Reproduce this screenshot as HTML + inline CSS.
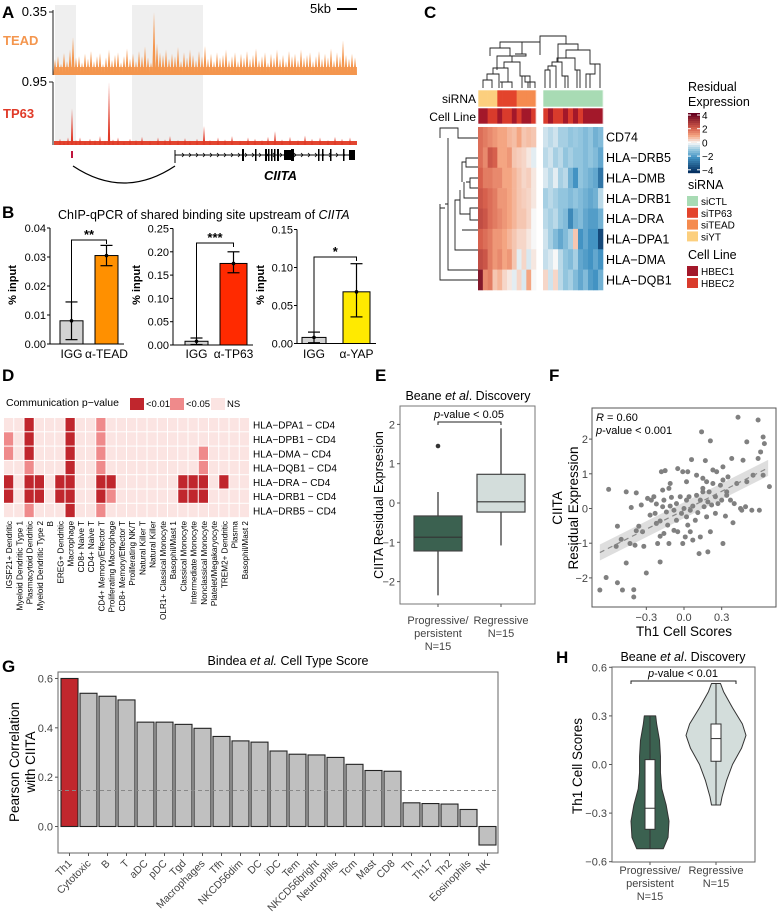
<!DOCTYPE html>
<html><head><meta charset="utf-8">
<style>
html,body{margin:0;padding:0;background:#fff;}
svg{display:block;font-family:"Liberation Sans",Arial,sans-serif;}
</style></head>
<body>
<svg id="fig" width="778" height="913" viewBox="0 0 778 913" xmlns="http://www.w3.org/2000/svg">
<g id="pA"></g>
<g id="pB"></g>
<g id="pC"></g>
<g id="pD"></g>
<g id="pE"></g>
<g id="pF"></g>
<g id="pG"></g>
<g id="pH"></g>
</svg>
<script>
// ---------- DATA ----------
// A tracks: signal as fraction of axis max, bins every 3px starting at x=55
const teadPeakVal=[0.25,0.30,0.18,0.35,0.22,0.40,0.60,0.28,0.30,0.20,0.34,0.26,0.38,0.22,0.30,0.35,0.18,0.28,0.40,0.24,
0.32,0.36,0.20,0.30,0.42,0.26,0.34,0.22,0.38,0.30,0.45,0.28,0.20,1.00,0.50,0.36,0.32,0.40,0.26,0.34,
0.30,0.44,0.22,0.36,0.28,0.40,0.32,0.24,0.38,0.30,0.46,0.26,0.34,0.22,0.36,0.28,0.32,0.40,0.24,0.30,
0.36,0.22,0.34,0.28,0.38,0.26,0.32,0.42,0.24,0.30,0.36,0.20,0.34,0.28,0.40,0.26,0.32,0.22,0.38,0.30,
0.34,0.24,0.40,0.28,0.32,0.36,0.22,0.30,0.38,0.26,0.34,0.28,0.42,0.24,0.36,0.30,0.55,0.32,0.26,0.34,0.28];
const tp63PeakPos=[60,64,68,72,76,80,85,90,95,100,105,109,113,118,124,130,136,142,150,158,165,170,178,185,190,197,204,210,218,225,232,240,248,255,262,268,275,282,290,298,305,312,320,328,335,342,350];
const tp63PeakVal=[0.10,0.07,0.12,0.58,0.08,0.12,0.06,0.10,0.08,0.14,0.07,1.0,0.09,0.12,0.06,0.10,0.08,0.13,0.07,0.12,0.09,0.14,0.08,0.11,0.07,0.10,0.30,0.08,0.12,0.09,0.14,0.07,0.12,0.10,0.08,0.13,0.22,0.09,0.13,0.08,0.15,0.10,0.12,0.08,0.13,0.10,0.12];
// B ChIP-qPCR
const bGroups=["IGG","α-TEAD","IGG","α-TP63","IGG","α-YAP"];
const bMeans=[0.008,0.0305,0.008,0.175,0.008,0.068];
const bErrLo=[0.0015,0.027,0.001,0.155,0.001,0.035];
const bErrHi=[0.0145,0.034,0.015,0.200,0.015,0.105];
const bTicks1=[0,0.01,0.02,0.03,0.04];
const bTicks2=[0,0.05,0.10,0.15,0.20,0.25];
const bTicks3=[0,0.05,0.10,0.15];
const bStars=["**","***","*"];
// C heatmap
const cGenes=["CD74","HLA\u2212DRB5","HLA\u2212DMB","HLA\u2212DRB1","HLA\u2212DRA","HLA\u2212DPA1","HLA\u2212DMA","HLA\u2212DQB1"];
const cLeft=[
[1.8,1.6,1.4,1.2,1.0,1.0,0.8,0.7,1.0,0.6,0.7,0.6],
[1.8,1.4,2.2,2.0,1.0,1.0,1.2,0.6,0.5,0.4,0.2,-0.2],
[2.0,1.6,1.6,1.4,1.4,1.0,1.0,0.8,0.6,0.4,0.5,0.2],
[2.2,2.0,1.8,1.6,1.2,1.2,1.0,0.8,0.6,0.5,0.4,0.2],
[2.4,2.2,1.8,1.6,1.4,1.2,1.0,0.8,0.6,0.6,0.4,0.0],
[2.0,1.8,1.6,1.2,1.2,1.0,0.8,0.6,0.4,0.4,0.2,0.0],
[2.4,2.2,1.6,1.2,1.4,1.0,1.2,0.6,-0.2,0.4,-0.3,0.2],
[3.5,1.4,1.6,0.6,0.8,0.4,0.2,-0.2,0.4,-0.3,1.0,0.0]];
const cRight=[
[-0.4,-0.6,-0.4,-0.8,-0.8,-1.0,-0.9,-1.0,-1.2,-1.0,-1.4,-1.2],
[-0.6,-0.4,-0.8,-0.6,-1.0,-0.8,-1.0,-1.0,-1.2,-1.0,-1.2,-1.6],
[-0.3,-0.6,-0.2,-0.8,-0.6,-1.4,-2.0,-1.0,-1.2,-1.4,-1.6,-2.6],
[-0.8,-0.6,-0.8,-1.0,-1.0,-1.2,-1.0,-1.2,-1.4,-1.6,-1.4,-0.6],
[-0.6,-0.8,-0.6,-1.0,-1.2,-2.2,-1.4,-1.2,-1.6,-1.8,-1.8,-1.4],
[-0.4,-0.8,-1.2,-1.6,-1.2,-0.8,0.6,-2.0,-1.6,-2.0,-2.0,-3.5],
[-0.5,-0.3,0.0,-0.6,-1.0,-1.2,-0.8,-1.6,-1.8,-2.0,-1.6,-2.0],
[0.4,-0.4,0.4,-0.6,-1.0,-0.8,-1.2,-1.6,-1.2,-1.8,-2.0,-1.4]];
const cSirnaLeft=["siYT","siYT","siYT","siYT","siTP63","siTP63","siTP63","siTP63","siTEAD","siTEAD","siTEAD","siTEAD"];
const cCellLeft=[1,1,2,2,1,2,2,1,2,1,1,2];
const cCellRight=[2,1,2,2,1,2,1,2,1,1,1,1];
// D communication heatmap
const dCols=["IGSF21+ Dendritic","Myeloid Dendritic Type 1","Plasmacytoid Dendritic","Myeloid Dendritic Type 2","B","EREG+ Dendritic","Macrophage","CD8+ Naive T","CD4+ Naive T","CD4+ Memory/Effector T","Proliferating Macrophage","CD8+ Memory/Effector T","Proliferating NK/T","Natural Killer T","Natural Killer","OLR1+ Classical Monocyte","Basophil/Mast 1","Classical Monocyte","Intermediate Monocyte","Nonclassical Monocyte","Platelet/Megakaryocyte","TREM2+ Dendritic","Plasma","Basophil/Mast 2"];
const dRows=["HLA\u2212DPA1 \u2212 CD4","HLA\u2212DPB1 \u2212 CD4","HLA\u2212DMA \u2212 CD4","HLA\u2212DQB1 \u2212 CD4","HLA\u2212DRA \u2212 CD4","HLA\u2212DRB1 \u2212 CD4","HLA\u2212DRB5 \u2212 CD4"];
const dVals=[
[0,0,2,0,0,0,2,0,0,1,0,0,0,0,0,0,0,0,0,0,0,0,0,0],
[1,0,2,0,0,0,2,0,0,1,0,0,0,0,0,0,0,0,0,0,0,0,0,0],
[1,0,2,0,0,0,2,0,0,1,0,0,0,0,0,0,0,0,0,1,0,0,0,0],
[0,0,1,0,0,0,2,0,0,1,0,0,0,0,0,0,0,0,0,1,0,0,0,0],
[2,0,2,2,0,2,2,0,0,2,2,0,0,0,0,0,0,2,2,2,0,2,0,0],
[2,0,2,2,0,2,2,0,0,2,1,0,0,0,0,0,0,2,2,2,0,0,0,0],
[0,0,1,0,0,0,2,0,0,1,0,0,0,0,0,0,0,0,0,0,0,0,0,0]];
// E boxplot
const eGroups=["Progressive/|persistent|N=15","Regressive|N=15"];
const eMin=[-2.35,-1.08],eQ1=[-1.22,-0.23],eMed=[-0.87,0.03],eQ3=[-0.33,0.73],eMax=[0.28,1.9];
const eOutliers=[[1.45],[]];
const eTicks=[-2,-1,0,1,2];
// F scatter
const fX=[-0.67,-0.62,-0.53,-0.49,-0.40,-0.40,-0.46,-0.60,-0.54,-0.53,-0.46,-0.38,-0.42,-0.50,-0.43,-0.39,-0.38,-0.36,-0.33,-0.32,-0.30,-0.29,-0.34,-0.27,-0.26,-0.24,-0.23,-0.22,-0.21,-0.19,-0.19,-0.17,-0.17,-0.16,-0.18,-0.15,-0.14,-0.13,-0.12,-0.12,-0.11,-0.10,-0.08,-0.08,-0.06,-0.06,-0.05,-0.05,-0.03,-0.02,-0.01,-0.01,0,0.01,0.02,0.02,0.03,0.03,0.04,0.05,0.05,0.06,0.07,0.07,0.09,0.10,0.10,0.11,0.12,0.13,0.13,0.14,0.15,0.15,0.16,0.17,0.18,0.19,0.19,0.20,0.21,0.21,0.22,0.23,0.23,0.25,0.25,0.26,0.27,0.29,0.30,0.31,0.31,0.33,0.34,0.34,0.35,0.37,0.38,0.39,0.40,0.42,0.43,0.45,0.46,0.47,0.49,0.50,0.50,0.54,0.55,0.59,0.59,0.61,0.63,0.64,0.63,0.60,0.68,0.02,-0.19,-0.22,-0.11,0.15,0.18,-0.16,0.31];
const fY=[-2.35,-1.99,-2.14,-2.35,-2.34,-2.55,-1.57,0.55,-1.09,-0.51,0.48,0.45,0.03,-0.89,-1.01,-1.06,-0.64,-0.51,-0.67,-1.09,-1.86,0.29,0.10,-0.19,0.24,0.34,-0.14,0.13,-1.01,-1.54,-0.36,0.05,0.53,0.24,1.06,1.09,-0.10,-0.48,-1.01,0.58,0.07,0.32,-0.63,-0.05,0.14,-0.34,1.15,-0.67,0.34,-0.14,1.06,-1.01,0,-0.82,0.24,-0.24,-0.48,1.06,0.34,-0.05,-0.67,1.41,0.07,-0.91,-0.34,0.38,0.96,-0.12,-1.30,0.24,-0.82,2.21,0.58,0.87,0.05,1.38,-0.24,0.19,-1.25,0.48,-0.67,1.95,0.10,1.11,0.72,0.34,-0.14,1.06,0.14,0.67,0.24,-1.01,1.20,-0.22,0.48,0.38,0.91,0.24,1.44,-0.41,0.14,0.72,2.63,0.00,-0.05,1.39,0.05,0.77,1.92,-0.05,0.96,1.44,2.55,1.63,2.06,1.87,0.96,-0.05,0.63,0.77,-0.80,-0.43,0.72,0.48,0.77,-0.72,0.82];
const fSlope=1.82,fIntercept=-0.05;
const fXTicks=[-0.3,0.0,0.3];
const fYTicks=[-2,-1,0,1,2];
// G bars
const gCats=["Th1","Cytotoxic","B","T","aDC","pDC","Tgd","Macrophages","Tfh","NKCD56dim","DC","iDC","Tem","NKCD56bright","Neutrophils","Tcm","Mast","CD8","Th","Th17","Th2","Eosinophils","NK"];
const gVals=[0.60,0.54,0.528,0.513,0.423,0.423,0.414,0.398,0.365,0.347,0.342,0.306,0.293,0.290,0.280,0.252,0.227,0.224,0.096,0.093,0.091,0.069,-0.075];
const gThreshold=0.146;
const gTicks=[0.0,0.2,0.4,0.6];
// H violins
const hGroups=["Progressive/|persistent|N=15","Regressive|N=15"];
const hDensY=[[-0.52,-0.45,-0.35,-0.25,-0.15,-0.05,0.05,0.15,0.25,0.30],[-0.25,-0.2,-0.1,0,0.1,0.18,0.25,0.35,0.45,0.50]];
const hDensW=[[0.7,0.95,1.0,0.85,0.62,0.55,0.55,0.5,0.35,0.3],[0.15,0.2,0.35,0.55,0.85,1.0,0.88,0.55,0.25,0.15]];
const hQ1=[-0.40,0.02],hMed=[-0.27,0.16],hQ3=[0.03,0.25];
const hTicks=[-0.6,-0.3,0.0,0.3,0.6];

// ---------- HELPERS ----------
const NS="http://www.w3.org/2000/svg";
function el(parent,tag,attrs,text){const e=document.createElementNS(NS,tag);for(const k in attrs)e.setAttribute(k,attrs[k]);if(text!==undefined)e.textContent=text;parent.appendChild(e);return e;}
function fmt(v,d){return (v<0?"\u2212":"")+Math.abs(v).toFixed(d);}

// ---------- PANEL A ----------
(function(){
const g=document.getElementById('pA');
let t=el(g,'text',{x:2,y:18,'font-size':17,'font-weight':'bold'},'A');

el(g,'rect',{x:55,y:5,width:21,height:140,fill:'#efefef'});
el(g,'rect',{x:132,y:5,width:71,height:140,fill:'#efefef'});
const tY0=75,tTop=12;
el(g,'rect',{x:54,y:67,width:303,height:8,fill:'#f6a060'});
teadPeakVal.forEach((v,i)=>{const p=55+i*3;const y=tY0-v*(tY0-tTop);
 const s=el(g,'path',{d:`M${p-1.8},${tY0} L${p},${y} L${p+1.8},${tY0} Z`,fill:'#f4964e'});
 });
const pY0=145,pTop=82;
el(g,'rect',{x:54,y:141,width:303,height:4,fill:'#e2452f'});
tp63PeakPos.forEach((p,i)=>{const y=pY0-tp63PeakVal[i]*(pY0-pTop);
 const s=el(g,'path',{d:`M${p-1.2},${pY0} L${p},${y} L${p+1.2},${pY0} Z`,fill:'#e03a28'});
 });
el(g,'line',{x1:53,y1:10,x2:53,y2:75,stroke:'#222','stroke-width':1});
el(g,'line',{x1:49,y1:12,x2:53,y2:12,stroke:'#222'});
el(g,'line',{x1:53,y1:82,x2:53,y2:145,stroke:'#222','stroke-width':1});
el(g,'line',{x1:49,y1:82,x2:53,y2:82,stroke:'#222'});
el(g,'text',{x:47,y:16,'font-size':13,'text-anchor':'end'},'0.35');
el(g,'text',{x:47,y:86,'font-size':13,'text-anchor':'end'},'0.95');
t=el(g,'text',{x:3,y:45,'font-size':13,'font-weight':'bold',fill:'#f4964e'},'TEAD');
t=el(g,'text',{x:3,y:118,'font-size':13,'font-weight':'bold',fill:'#e03a28'},'TP63');
el(g,'text',{x:310,y:13,'font-size':13},'5kb');
el(g,'line',{x1:337,y1:9,x2:357,y2:9,stroke:'#000','stroke-width':2});
el(g,'rect',{x:71,y:151,width:2,height:7,fill:'#c0143c'});
el(g,'line',{x1:175,y1:150,x2:175,y2:163,stroke:'#000','stroke-width':1});
el(g,'line',{x1:175,y1:155,x2:352,y2:155,stroke:'#000','stroke-width':1});
for(let x=182;x<345;x+=7){el(g,'path',{d:`M${x},153 L${x+2},155 L${x},157`,stroke:'#000',fill:'none','stroke-width':0.8});}
[[242,2],[255,1.5],[265,2],[268,1.5],[271,1.5],[274,1.5],[277,2],[284,9],[291,3],[318,1.5],[322,1.5],[330,1.5],[343,1.5],[349,6]].forEach(e=>{el(g,'rect',{x:e[0],y:e[1]>5?150:149,width:e[1],height:e[1]>5?10:12,fill:'#000'});});
el(g,'path',{d:'M73,166 Q124,200 175,166',stroke:'#000',fill:'none','stroke-width':1.2});
t=el(g,'text',{x:264,y:180,'font-size':13,'font-style':'italic','font-weight':'bold'},'CIITA');
})();

// ---------- PANEL B ----------
(function(){
const g=document.getElementById('pB');
let t=el(g,'text',{x:2,y:218,'font-size':17,'font-weight':'bold'},'B');

const ti=el(g,'text',{x:58,y:219,'font-size':12.5});ti.innerHTML='ChIP-qPCR of shared binding site upstream of <tspan font-style="italic">CIITA</tspan>';

const subs=[{ax:50,y0:344,k:2900,ticks:bTicks1,bars:[[60,83],[95,118]],col:'#ff9000',br:240},
            {ax:173,y0:345,k:466,ticks:bTicks2,bars:[[185,208],[220,247]],col:'#ff2a00',br:243},
            {ax:297,y0:343.5,k:760,ticks:bTicks3,bars:[[302,326],[343,370]],col:'#ffea00',br:257}];
const ylx=[16,140,264];
subs.forEach((s,si)=>{
 const top=s.y0-s.ticks[s.ticks.length-1]*s.k;
 el(g,'line',{x1:s.ax,y1:top,x2:s.ax,y2:s.y0,stroke:'#000'});
 el(g,'line',{x1:s.ax,y1:s.y0,x2:s.bars[1][1]+6,y2:s.y0,stroke:'#000'});
 s.ticks.forEach(v=>{const y=s.y0-v*s.k;el(g,'line',{x1:s.ax-3,y1:y,x2:s.ax,y2:y,stroke:'#000'});
   el(g,'text',{x:s.ax-4,y:y+4,'font-size':11,'text-anchor':'end'},v.toFixed(2));});
 const yl=el(g,'text',{x:ylx[si],y:285,'font-size':11,'font-weight':'bold','text-anchor':'middle',transform:`rotate(-90 ${ylx[si]} 285)`},'% input');
 
 s.bars.forEach((b,bi)=>{const i=si*2+bi;const y=s.y0-bMeans[i]*s.k;
  const r=el(g,'rect',{x:b[0],y:y,width:b[1]-b[0],height:s.y0-y,fill:bi?s.col:'#d3d3d3',stroke:'#000','stroke-width':1});
  
  const cx=(b[0]+b[1])/2,yl=s.y0-bErrLo[i]*s.k,yh=s.y0-bErrHi[i]*s.k;
  el(g,'line',{x1:cx,y1:yl,x2:cx,y2:yh,stroke:'#000','stroke-width':1.2});
  el(g,'line',{x1:cx-6,y1:yl,x2:cx+6,y2:yl,stroke:'#000','stroke-width':1.2});
  el(g,'line',{x1:cx-6,y1:yh,x2:cx+6,y2:yh,stroke:'#000','stroke-width':1.2});
  el(g,'circle',{cx:cx,cy:y,r:1.8,fill:'#000'});
  el(g,'text',{x:cx,y:358,'font-size':12,'text-anchor':'middle'},bGroups[i]);
 });
 const c0=(s.bars[0][0]+s.bars[0][1])/2,c1=(s.bars[1][0]+s.bars[1][1])/2;
 el(g,'path',{d:`M${c0},${s.y0-5} V${s.br} H${c1} V${s.br+4}`,stroke:'#000',fill:'none'});
 el(g,'text',{x:(c0+c1)/2,y:s.br-1,'font-size':13,'font-weight':'bold','text-anchor':'middle'},bStars[si]);
});
})();

// ---------- PANEL C ----------
function rdbu(v){
 const stops=[[-4,[5,48,97]],[-2,[67,147,195]],[-1,[146,197,222]],[0,[247,247,247]],[1,[244,165,130]],[2,[214,96,77]],[4,[103,0,31]]];
 v=Math.max(-4,Math.min(4,v));
 for(let i=0;i<stops.length-1;i++){const a=stops[i],b=stops[i+1];if(v<=b[0]){const f=(v-a[0])/(b[0]-a[0]);const c=a[1].map((x,j)=>Math.round(x+(b[1][j]-x)*f));return `rgb(${c})`;}}
 return 'rgb(103,0,31)';}
(function(){
const g=document.getElementById('pC');
let t=el(g,'text',{x:424,y:18,'font-size':17,'font-weight':'bold'},'C');

const sirCol={siCTL:'#a8dbb4',siTP63:'#e3442c',siTEAD:'#f58b4f',siYT:'#fccf7e'};
const cellCol={1:'#a3182a',2:'#d93b2c'};
const Lx=478,Lw=58,Rx=543,Rw=60,top=127,bot=290,n=12;
const rh=(bot-top)/cGenes.length;
function block(x0,w,vals,sir,cell){
 const cw=w/n;
 for(let j=0;j<n;j++){
  const s=el(g,'rect',{x:x0+j*cw,y:90,width:cw+0.3,height:17,fill:sirCol[sir[j]]});
  
  el(g,'rect',{x:x0+j*cw,y:108,width:cw+0.3,height:16,fill:cellCol[cell[j]]});
  vals.forEach((row,i)=>{const c=el(g,'rect',{x:x0+j*cw,y:top+i*rh,width:cw+0.3,height:rh+0.3,fill:rdbu(row[j])});
   });
 }
 el(g,'rect',{x:x0,y:90,width:w,height:17,fill:'none',stroke:'#fff','stroke-width':0.6});
 el(g,'rect',{x:x0,y:108,width:w,height:16,fill:'none',stroke:'#fff','stroke-width':0.6});
}
block(Lx,Lw,cLeft,cSirnaLeft,cCellLeft);
block(Rx,Rw,cRight,Array(12).fill('siCTL'),cCellRight);
el(g,'text',{x:476,y:103,'font-size':12,'text-anchor':'end'},'siRNA');
el(g,'text',{x:476,y:121,'font-size':12,'text-anchor':'end'},'Cell Line');
cGenes.forEach((gn,i)=>{const tx=el(g,'text',{x:606,y:top+i*rh+rh/2+4.5,'font-size':12.5},gn);
 });
el(g,'path',{d:'M483,88V80H492V88 M487,80V74H499V88 M493,74V68H508V82H512V88 M500,82H508 M502,88V82 M504,68V62H520V76H530V88 M522,88V76 M525,76V82H535V88 M528,82V88 M512,62V56H526V54H515 M497,70V56H512 M490,56V48H510V56 M500,48V42H540 V55 M545,88V70H550V88 M548,70V66H556V88 M552,66V62H562V76H568V88 M565,76V88 M557,62V58H575V70H580V88 M577,70V88 M566,58V50H590V64H600V88 M595,64V74H586V88 M590,74V88 M578,50V44H558V62 M522,54V42 M540,42V36H566V44',stroke:'#222',fill:'none','stroke-width':0.9});
el(g,'path',{d:'M478,138H458V128H440V138 M478,158H466V167H478 M466,162H462V182 M478,178H470V188H478 M470,182H466 M464,182V198H478 M478,208H470V220H478 M470,214H460V190 M460,200H455V230 M478,230H462 M455,230V250H478 M478,270H448V138 M448,204H445 M478,280H440V204 M440,208H445',stroke:'#222',fill:'none','stroke-width':0.9});
el(g,'text',{x:688,y:91,'font-size':12.5},'Residual');
el(g,'text',{x:688,y:106,'font-size':12.5},'Expression');
for(let k=0;k<30;k++){const v=4-8*k/29;el(g,'rect',{x:688,y:113+k*2,width:12,height:2.2,fill:rdbu(v)});}
[4,2,0,-2,-4].forEach((v,i)=>{const y=115+i*13.7;el(g,'line',{x1:688,y1:y,x2:691,y2:y,stroke:'#fff'});el(g,'line',{x1:697,y1:y,x2:700,y2:y,stroke:'#fff'});
 el(g,'text',{x:702,y:y+4,'font-size':10},fmt(v,0));});
el(g,'text',{x:688,y:189,'font-size':12.5},'siRNA');
[['siCTL',sirCol.siCTL],['siTP63',sirCol.siTP63],['siTEAD',sirCol.siTEAD],['siYT',sirCol.siYT]].forEach((e,i)=>{const y=196+i*11.8;
 const r=el(g,'rect',{x:687,y:y,width:11,height:10,fill:e[1]});
 el(g,'text',{x:701,y:y+9,'font-size':10},e[0]);});
el(g,'text',{x:688,y:259,'font-size':12.5},'Cell Line');
[['HBEC1',cellCol[1]],['HBEC2',cellCol[2]]].forEach((e,i)=>{const y=266+i*12;
 const r=el(g,'rect',{x:687,y:y,width:11,height:10,fill:e[1]});
 el(g,'text',{x:701,y:y+9,'font-size':10},e[0]);});
})();

// ---------- PANEL D ----------
(function(){
const g=document.getElementById('pD');
let t=el(g,'text',{x:2,y:381,'font-size':17,'font-weight':'bold'},'D');

const cols=['#fbe4e2','#ef8a8b','#c0262d'];
el(g,'text',{x:6,y:406,'font-size':10.5},'Communication p\u2212value');
[[130,'<0.01',2],[170,'<0.05',1],[211,'NS',0]].forEach(e=>{const r=el(g,'rect',{x:e[0],y:398,width:14,height:12,fill:cols[e[2]]});
 
 el(g,'text',{x:e[0]+16,y:407,'font-size':9.5},e[1]);});
const x0=4,y0=418,cw=10.25,rh=14.3;
dVals.forEach((row,i)=>{row.forEach((v,j)=>{const r=el(g,'rect',{x:x0+j*cw,y:y0+i*rh,width:cw-1,height:rh-1,fill:cols[v]});
 });
 el(g,'text',{x:253,y:y0+i*rh+rh/2+3.5,'font-size':10},dRows[i]);});
dCols.forEach((c,j)=>{const x=x0+j*cw+cw/2+3;const tx=el(g,'text',{x:x,y:521,'font-size':8.2,'text-anchor':'end',transform:`rotate(-90 ${x} 521)`},c);
 });
})();

// ---------- PANEL E ----------
(function(){
const g=document.getElementById('pE');
let t=el(g,'text',{x:375,y:381,'font-size':17,'font-weight':'bold'},'E');

const L=400,R=535,T=406,B=604,y0=503,k=39.3;
const Y=v=>y0-v*k;
const tt=el(g,'text',{x:468,y:400,'font-size':12.5,'text-anchor':'middle'});tt.innerHTML='Beane <tspan font-style="italic">et al</tspan>. Discovery';
el(g,'rect',{x:L,y:T,width:R-L,height:B-T,fill:'none',stroke:'#777'});
eTicks.forEach(v=>{el(g,'line',{x1:L-3,y1:Y(v),x2:L,y2:Y(v),stroke:'#555'});el(g,'text',{x:L-5,y:Y(v)+4,'font-size':11,'text-anchor':'end',fill:'#444'},fmt(v,0));});
const yl=el(g,'text',{x:383,y:505,'font-size':12.5,'text-anchor':'middle',transform:'rotate(-90 383 505)'},'CIITA Residual Exprsesion');

const cx=[438,501],fills=['#3b6150','#d3dddb'];
eGroups.forEach((gname,i)=>{const c=cx[i];
 el(g,'line',{x1:c,y1:Y(eMin[i]),x2:c,y2:Y(eMax[i]),stroke:'#555','stroke-width':1.5});
 const b=el(g,'rect',{x:c-24,y:Y(eQ3[i]),width:48,height:Y(eQ1[i])-Y(eQ3[i]),fill:fills[i],stroke:'#444','stroke-width':1.2});
 
 el(g,'line',{x1:c-24,y1:Y(eMed[i]),x2:c+24,y2:Y(eMed[i]),stroke:'#333','stroke-width':1.2});
 eOutliers[i].forEach(o=>el(g,'circle',{cx:c,cy:Y(o),r:2.3,fill:'#333'}));
 el(g,'line',{x1:c,y1:B,x2:c,y2:B+3,stroke:'#555'});
 gname.split('|').forEach((ln,li)=>el(g,'text',{x:c,y:624+li*13,'font-size':11,'text-anchor':'middle',fill:'#444'},ln));
});
el(g,'path',{d:'M438,425V422H501V425',stroke:'#222',fill:'none'});
const pv=el(g,'text',{x:469,y:418,'font-size':11,'text-anchor':'middle'});pv.innerHTML='<tspan font-style="italic">p</tspan>-value &lt; 0.05';
})();

// ---------- PANEL F ----------
(function(){
const g=document.getElementById('pF');
let t=el(g,'text',{x:549,y:381,'font-size':17,'font-weight':'bold'},'F');

const L=592,R=776,T=408,B=607;
const X=v=>684+v*125.6, Y=v=>508.5-v*34.7;
el(g,'rect',{x:L,y:T,width:R-L,height:B-T,fill:'none',stroke:'#555'});
const x1=-0.67,x2=0.67;
el(g,'path',{d:`M${X(x1)},${Y(fSlope*x1+fIntercept)-8} L${X(x2)},${Y(fSlope*x2+fIntercept)-8} L${X(x2)},${Y(fSlope*x2+fIntercept)+8} L${X(x1)},${Y(fSlope*x1+fIntercept)+8}Z`,fill:'#dedede'});
fX.forEach((x,i)=>{const c=el(g,'circle',{cx:X(x),cy:Y(fY[i]),r:2.5,fill:'#808080'});
 });
const rl=el(g,'line',{x1:X(x1),y1:Y(fSlope*x1+fIntercept),x2:X(x2),y2:Y(fSlope*x2+fIntercept),stroke:'#888','stroke-dasharray':'5,4','stroke-width':1.2});

fXTicks.forEach(v=>{el(g,'line',{x1:X(v),y1:B,x2:X(v),y2:B+3,stroke:'#555'});el(g,'text',{x:X(v),y:B+14,'font-size':11,'text-anchor':'middle',fill:'#444'},fmt(v,1));});
fYTicks.forEach(v=>{el(g,'line',{x1:L-3,y1:Y(v),x2:L,y2:Y(v),stroke:'#555'});el(g,'text',{x:L-4,y:Y(v)+4,'font-size':11,'text-anchor':'end',fill:'#444'},fmt(v,0));});
el(g,'text',{x:684,y:636,'font-size':13.5,'text-anchor':'middle'},'Th1 Cell Scores');
el(g,'text',{x:562,y:508,'font-size':13.5,'text-anchor':'middle',transform:'rotate(-90 562 508)'},'CIITA');
el(g,'text',{x:578,y:508,'font-size':13.5,'text-anchor':'middle',transform:'rotate(-90 578 508)'},'Residual Expression');
const a=el(g,'text',{x:596,y:421,'font-size':11});a.innerHTML='<tspan font-style="italic">R</tspan> = 0.60';
const b=el(g,'text',{x:596,y:434,'font-size':11});b.innerHTML='<tspan font-style="italic">p</tspan>-value &lt; 0.001';
})();

// ---------- PANEL G ----------
(function(){
const g=document.getElementById('pG');
let t=el(g,'text',{x:2,y:672,'font-size':17,'font-weight':'bold'},'G');

const L=58,R=498,T=672,B=853,y0=826.5,k=246.7;
const Y=v=>y0-v*k;
const tt=el(g,'text',{x:288,y:665,'font-size':12.5,'text-anchor':'middle'});tt.innerHTML='Bindea <tspan font-style="italic">et al.</tspan> Cell Type Score';

el(g,'rect',{x:L,y:T,width:R-L,height:B-T,fill:'none',stroke:'#666'});
gTicks.forEach(v=>{el(g,'line',{x1:L-3,y1:Y(v),x2:L,y2:Y(v),stroke:'#555'});el(g,'text',{x:L-5,y:Y(v)+4,'font-size':11,'text-anchor':'end',fill:'#444'},v.toFixed(1));});
const step=19,bw=17,x0=61;
gCats.forEach((c,i)=>{const x=x0+i*step,v=gVals[i];
 const r=el(g,'rect',{x:x,y:Math.min(Y(v),y0),width:bw,height:Math.abs(Y(v)-y0),fill:i===0?'#c1272d':'#c0c0c0',stroke:'#222','stroke-width':1.1});
 
 const cx=x+bw/2;el(g,'line',{x1:cx,y1:B,x2:cx,y2:B+3,stroke:'#555'});
 const tx=el(g,'text',{x:cx+3,y:864,'font-size':10.5,'text-anchor':'end',fill:'#444',transform:`rotate(-45 ${cx+3} 864)`},c);
 
});
el(g,'line',{x1:L,y1:Y(gThreshold),x2:R,y2:Y(gThreshold),stroke:'#888','stroke-dasharray':'4,3'});
el(g,'text',{x:19,y:762,'font-size':13.5,'text-anchor':'middle',transform:'rotate(-90 19 762)'},'Pearson Correlation');
el(g,'text',{x:35,y:762,'font-size':13.5,'text-anchor':'middle',transform:'rotate(-90 35 762)'},'with CIITA');
})();

// ---------- PANEL H ----------
(function(){
const g=document.getElementById('pH');
let t=el(g,'text',{x:556,y:663,'font-size':17,'font-weight':'bold'},'H');

const L=612,R=755,T=667,B=862,y0=764.5,k=162;
const Y=v=>y0-v*k;
const tt=el(g,'text',{x:683,y:661,'font-size':12.5,'text-anchor':'middle'});tt.innerHTML='Beane <tspan font-style="italic">et al</tspan>. Discovery';

el(g,'rect',{x:L,y:T,width:R-L,height:B-T,fill:'none',stroke:'#666'});
hTicks.forEach(v=>{el(g,'line',{x1:L-3,y1:Y(v),x2:L,y2:Y(v),stroke:'#555'});el(g,'text',{x:L-5,y:Y(v)+4,'font-size':11,'text-anchor':'end',fill:'#444'},fmt(v,1));});
const cx=[650,716],maxW=[19,30],fills=['#3b6150','#d3dddb'];
hGroups.forEach((gn,i)=>{const c=cx[i],ys=hDensY[i],ws=hDensW[i];
 let d='M'+(c+ws[0]*maxW[i])+','+Y(ys[0]);
 for(let j=1;j<ys.length;j++)d+=' L'+(c+ws[j]*maxW[i])+','+Y(ys[j]);
 for(let j=ys.length-1;j>=0;j--)d+=' L'+(c-ws[j]*maxW[i])+','+Y(ys[j]);
 const p=el(g,'path',{d:d+'Z',fill:fills[i],stroke:'#333','stroke-width':1,'stroke-linejoin':'round'});
 
 el(g,'line',{x1:c,y1:Y(ys[0]),x2:c,y2:Y(ys[ys.length-1]),stroke:'#333'});
 el(g,'rect',{x:c-5,y:Y(hQ3[i]),width:10,height:Y(hQ1[i])-Y(hQ3[i]),fill:'#fff',stroke:'#333'});
 el(g,'line',{x1:c-5,y1:Y(hMed[i]),x2:c+5,y2:Y(hMed[i]),stroke:'#333'});
 el(g,'line',{x1:c,y1:B,x2:c,y2:B+3,stroke:'#555'});
 gn.split('|').forEach((ln,li)=>el(g,'text',{x:c,y:874+li*13,'font-size':11,'text-anchor':'middle',fill:'#444'},ln));
});
el(g,'path',{d:'M631,684V681H736V684',stroke:'#222',fill:'none'});
const pv=el(g,'text',{x:683,y:677,'font-size':11,'text-anchor':'middle'});pv.innerHTML='<tspan font-style="italic">p</tspan>-value &lt; 0.01';
el(g,'text',{x:582,y:766,'font-size':13.5,'text-anchor':'middle',transform:'rotate(-90 582 766)'},'Th1 Cell Scores');
})();
</script>
</body></html>
